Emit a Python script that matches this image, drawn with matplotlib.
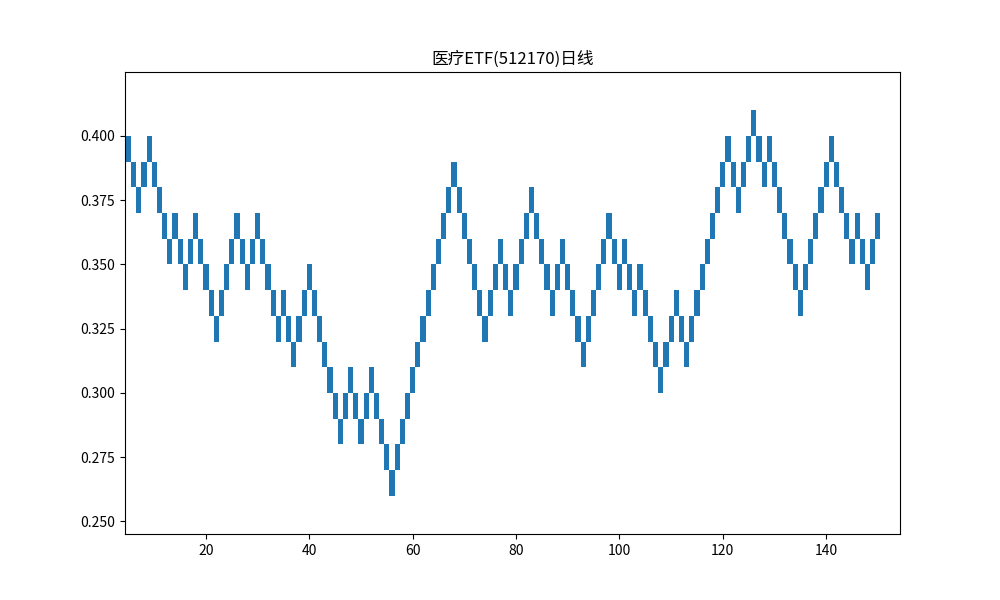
import numpy as np
import matplotlib
matplotlib.use("Agg")
import matplotlib.pyplot as plt
from matplotlib.ticker import MultipleLocator, FormatStrFormatter

plt.rcParams['font.family'] = ['Noto Sans CJK SC', 'DejaVu Sans']
plt.rcParams['axes.unicode_minus'] = False

# renko bricks: index and lower edge of each brick
brick_size = 0.01
x_index = list(range(5, 151))
brick_low = [
    0.39, 0.38, 0.37, 0.38, 0.39, 0.38, 0.37, 0.36, 0.35, 0.36,
    0.35, 0.34, 0.35, 0.36, 0.35, 0.34, 0.33, 0.32, 0.33, 0.34,
    0.35, 0.36, 0.35, 0.34, 0.35, 0.36, 0.35, 0.34, 0.33, 0.32,
    0.33, 0.32, 0.31, 0.32, 0.33, 0.34, 0.33, 0.32, 0.31, 0.30,
    0.29, 0.28, 0.29, 0.30, 0.29, 0.28, 0.29, 0.30, 0.29, 0.28,
    0.27, 0.26, 0.27, 0.28, 0.29, 0.30, 0.31, 0.32, 0.33, 0.34,
    0.35, 0.36, 0.37, 0.38, 0.37, 0.36, 0.35, 0.34, 0.33, 0.32,
    0.33, 0.34, 0.35, 0.34, 0.33, 0.34, 0.35, 0.36, 0.37, 0.36,
    0.35, 0.34, 0.33, 0.34, 0.35, 0.34, 0.33, 0.32, 0.31, 0.32,
    0.33, 0.34, 0.35, 0.36, 0.35, 0.34, 0.35, 0.34, 0.33, 0.34,
    0.33, 0.32, 0.31, 0.30, 0.31, 0.32, 0.33, 0.32, 0.31, 0.32,
    0.33, 0.34, 0.35, 0.36, 0.37, 0.38, 0.39, 0.38, 0.37, 0.38,
    0.39, 0.40, 0.39, 0.38, 0.39, 0.38, 0.37, 0.36, 0.35, 0.34,
    0.33, 0.34, 0.35, 0.36, 0.37, 0.38, 0.39, 0.38, 0.37, 0.36,
    0.35, 0.36, 0.35, 0.34, 0.35, 0.36,
]
title = "医疗ETF(512170)日线"

fig, ax = plt.subplots(figsize=(10, 6), dpi=100)
ax.bar(x_index, [brick_size] * len(x_index), width=1.0, bottom=brick_low,
       color='#1f77b4')
ax.set_xlim(4.32, 154.3)
ax.set_ylim(0.2451, 0.4249)
ax.yaxis.set_major_locator(MultipleLocator(0.025))
ax.yaxis.set_major_formatter(FormatStrFormatter('%.3f'))
ax.set_title(title, fontsize=12)

fig.savefig("out.png")
